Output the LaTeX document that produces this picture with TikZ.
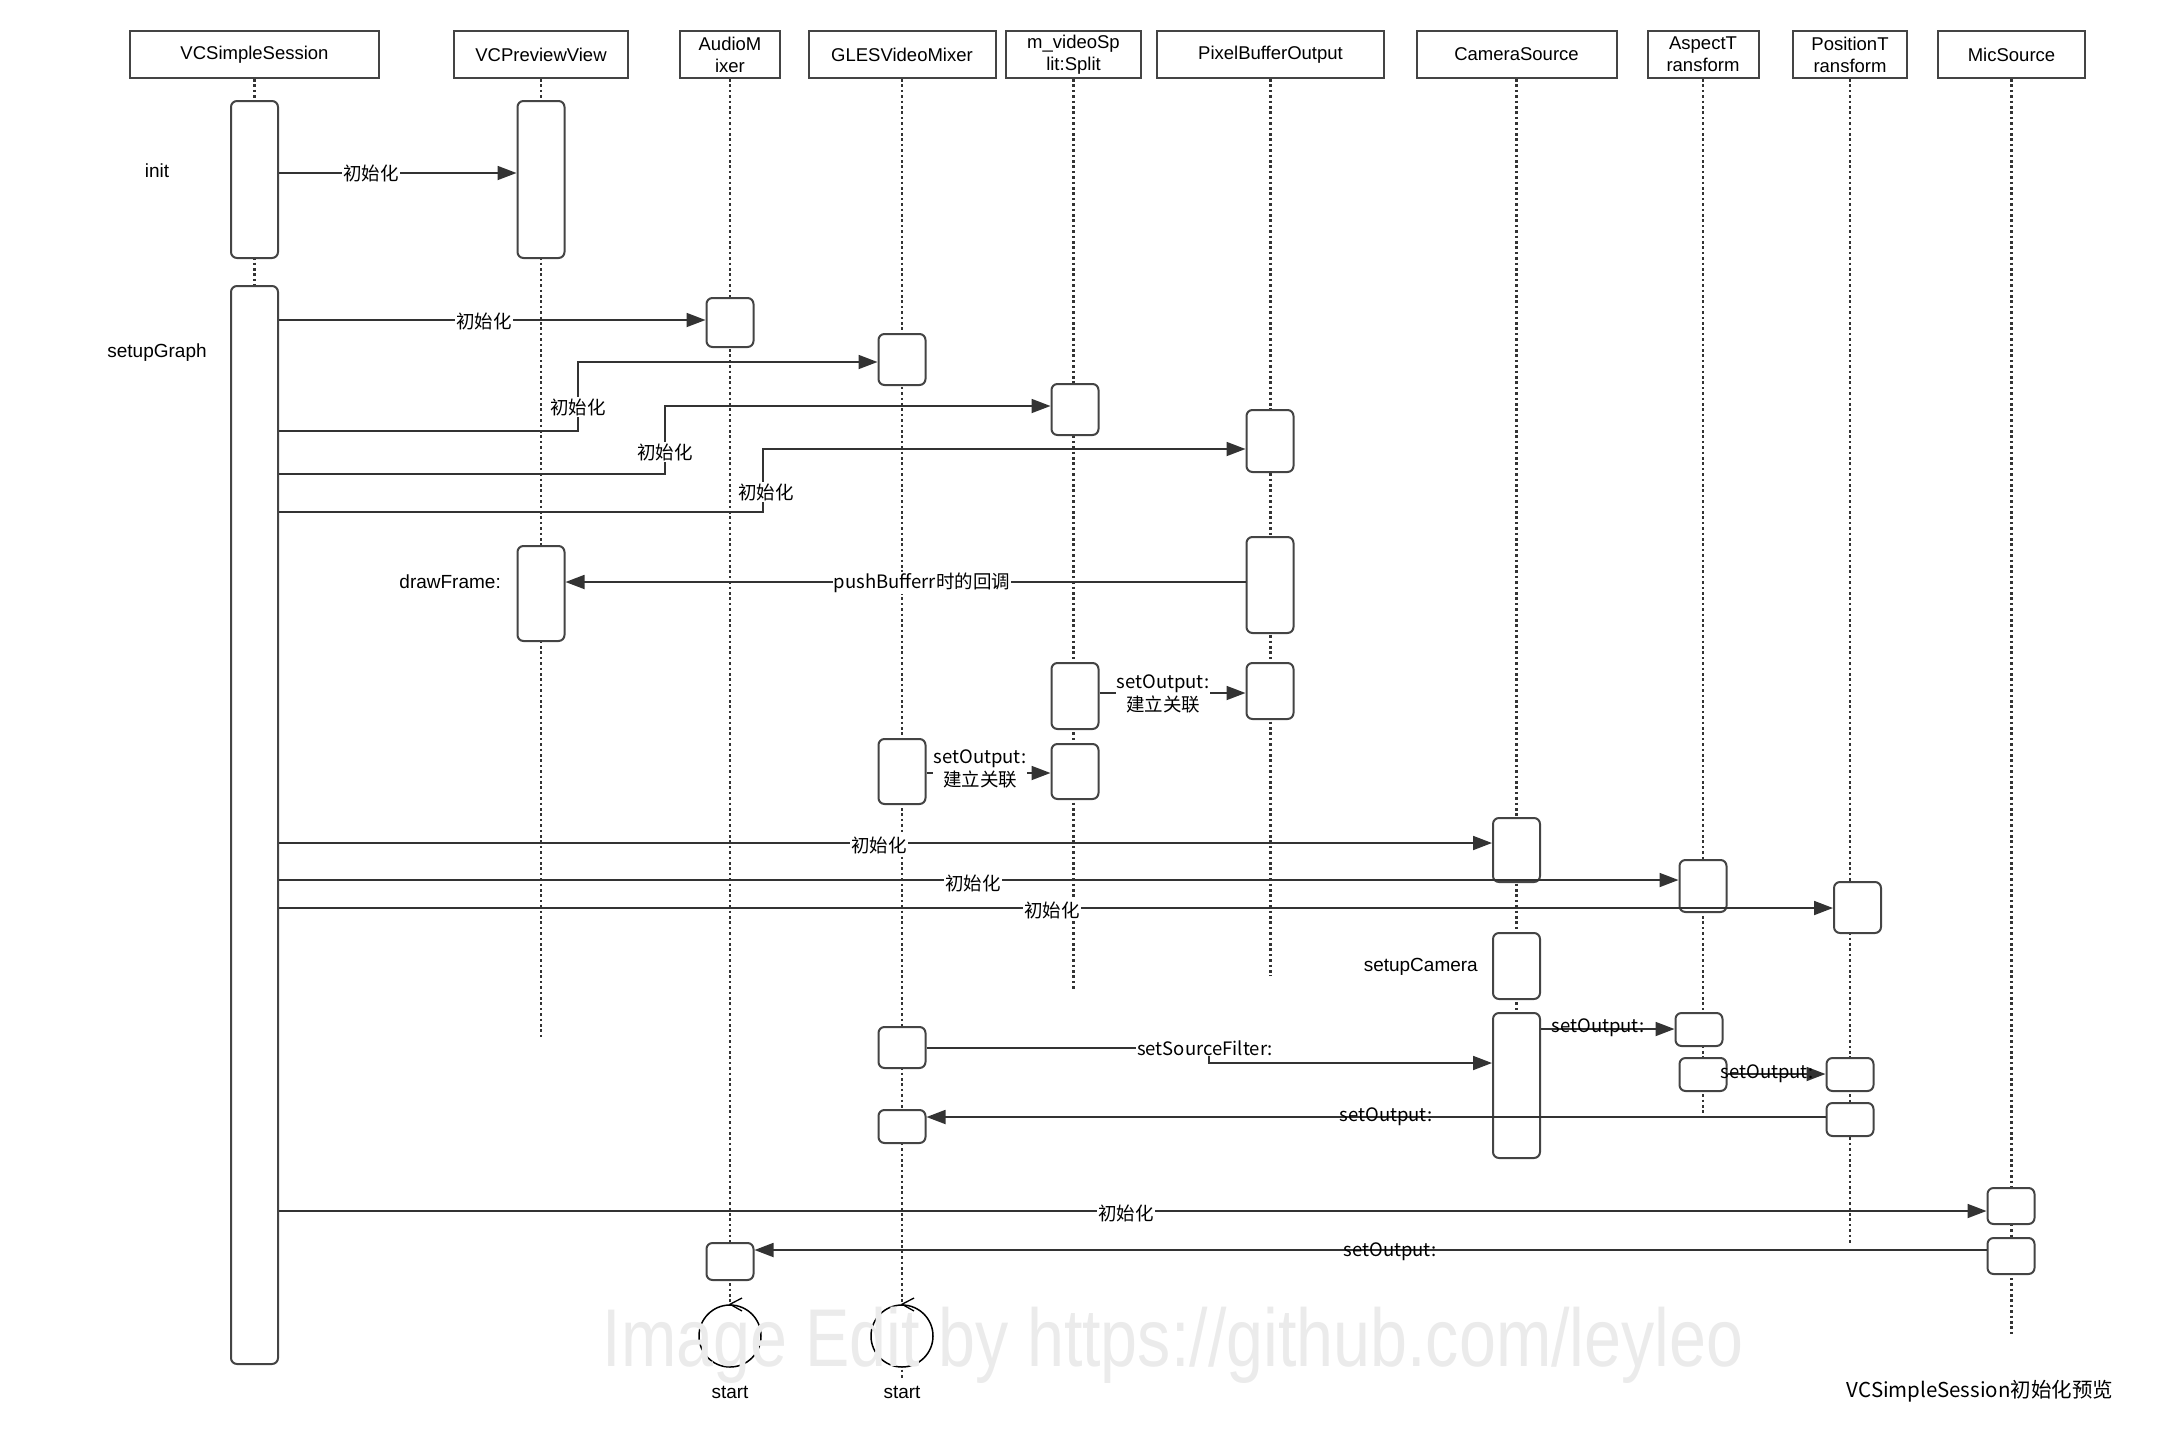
\documentclass[tikz,border=0pt]{standalone}
\usepackage{fontspec}
\setmainfont{Liberation Sans}
\newfontfamily\cjk{Noto Sans CJK SC}
\usepackage{tikz}
\usetikzlibrary{arrows.meta}

\definecolor{linec}{HTML}{333333}
\definecolor{boxc}{HTML}{444444}

\newcommand{\actbox}[4]{\node[act, minimum height=#4-#3] (#1) at (#2,{(#3+#4)/2}) {};}

\begin{document}
\begin{tikzpicture}[x=1pt, y=-1pt,
    head/.style={draw=boxc, line width=2pt, minimum height=47pt, inner sep=0pt, align=center, font=\fontsize{18.5}{22}\selectfont},
    act/.style={draw=boxc, fill=white, line width=2pt, rounded corners=6pt, minimum width=47pt, inner sep=0pt},
    life/.style={draw=linec, line width=2.8pt, dash pattern=on 2.6pt off 2.8pt},
    msg/.style={draw=linec, line width=1.8pt, -{Triangle[length=19pt, width=14pt]}},
    lbl/.style={font=\cjk\fontsize{18.5}{23}\selectfont, fill=white, inner sep=1pt, align=center},
    lbln/.style={font=\cjk\fontsize{18.5}{23}\selectfont, inner sep=1pt},
    note/.style={font=\fontsize{19}{22}\selectfont, inner sep=0pt}]
            \useasboundingbox (0,0) rectangle (2166,1454);

            \node[head, minimum width=249pt] (hSess) at (254.5,54.5) {VCSimpleSession};
            \node[head, minimum width=174pt] (hPrev) at (541,54.5) {VCPreviewView};
            \node[head, minimum width=100pt] (hAudio) at (730,54.5) {AudioM\\ixer};
            \node[head, minimum width=187pt] (hGles) at (902,54.5) {GLESVideoMixer};
            \node[head, minimum width=135pt] (hSplit) at (1073.5,54.5) {m\_videoSp\\lit:Split};
            \node[head, minimum width=227pt] (hPbo) at (1270.5,54.5) {PixelBufferOutput};
            \node[head, minimum width=200pt] (hCam) at (1516.5,54.5) {CameraSource};
            \node[head, minimum width=111pt] (hAspect) at (1703,54.5) {AspectT\\ransform};
            \node[head, minimum width=114pt] (hPos) at (1850,54.5) {PositionT\\ransform};
            \node[head, minimum width=147pt] (hMic) at (2011.5,54.5) {MicSource};

            \foreach \n/\e in {hSess/1364, hPrev/1039, hAudio/1305, hGles/1378, hSplit/991,
                hPbo/976, hCam/1158, hAspect/1118, hPos/1243, hMic/1337}
                \draw[life] (\n.south) -- (\n.south |- 0,\e);

            \actbox{sessA}{254.5}{101}{258}
            \actbox{prevA}{541}{101}{258}
            \actbox{sessB}{254.5}{286}{1364}
            \actbox{amA}{730}{298}{347}
            \actbox{glA}{902}{334}{385}
            \actbox{spA}{1075}{384}{435}
            \actbox{pbA}{1270}{410}{472}
            \actbox{pbB}{1270}{537}{633}
            \actbox{prevB}{541}{546}{641}
            \actbox{spB}{1075}{663}{729}
            \actbox{pbC}{1270}{663}{719}
            \actbox{glB}{902}{739}{804}
            \actbox{spC}{1075}{744}{799}
            \actbox{camA}{1516.5}{818}{882}
            \actbox{asA}{1703}{860}{912}
            \actbox{posA}{1857.5}{882}{933}
            \actbox{camB}{1516.5}{933}{999}
            \actbox{camC}{1516.5}{1013}{1158}
            \actbox{asB}{1699}{1013}{1046}
            \actbox{asC}{1703}{1058}{1091}
            \actbox{posB}{1850}{1058}{1091}
            \actbox{posC}{1850}{1103}{1136}
            \actbox{glC}{902}{1027}{1068}
            \actbox{glD}{902}{1110}{1143}
            \actbox{micA}{2011}{1188}{1224}
            \actbox{micB}{2011}{1238}{1274}
            \actbox{amB}{730}{1243}{1280}

            \draw[msg] (sessA.east |- 0,173) -- (prevA.west |- 0,173);
            \draw[msg] (sessB.east |- 0,320) -- (amA.west |- 0,320);
            \draw[msg] (sessB.east |- 0,431) -- (578,431) -- (578,362) -- (glA.west |- 0,362);
            \draw[msg] (sessB.east |- 0,474) -- (665,474) -- (665,406) -- (spA.west |- 0,406);
            \draw[msg] (sessB.east |- 0,512) -- (763,512) -- (763,449) -- (pbA.west |- 0,449);
            \draw[msg] (pbB.west |- 0,582) -- (prevB.east |- 0,582);
            \draw[msg] (spB.east |- 0,693) -- (pbC.west |- 0,693);
            \draw[msg] (glB.east |- 0,773) -- (spC.west |- 0,773);
            \draw[msg] (sessB.east |- 0,843) -- (camA.west |- 0,843);
            \draw[msg] (sessB.east |- 0,880) -- (asA.west |- 0,880);
            \draw[msg] (sessB.east |- 0,908) -- (posA.west |- 0,908);
            \draw[msg] (camC.east |- 0,1029) -- (asB.west |- 0,1029);
            \draw[msg] (glC.east |- 0,1048) -- (1209,1048) -- (1209,1063) -- (camC.west |- 0,1063);
            \draw[msg] (asC.east |- 0,1074) -- (posB.west |- 0,1074);
            \draw[msg] (posC.west |- 0,1117) -- (glD.east |- 0,1117);
            \draw[msg] (sessB.east |- 0,1211) -- (micA.west |- 0,1211);
            \draw[msg] (micB.west |- 0,1250) -- (amB.east |- 0,1250);

            \node[lbl] (l1) at (371,173) {初始化};
            \node[lbl] (l2) at (484,321) {初始化};
            \node[lbl] (l3) at (578,407) {初始化};
            \node[lbl] (l4) at (665,452) {初始化};
            \node[lbl] (l5) at (766,492) {初始化};
            \node[lbl] (l6) at (922,583) {pushBufferr时的回调};
            \node[lbl] (l7) at (1163,694) {setOutput:\\建立关联};
            \node[lbl] (l8) at (980,769) {setOutput:\\建立关联};
            \node[lbl] (l9) at (879,845) {初始化};
            \node[lbl] (l10) at (973,883) {初始化};
            \node[lbl] (l11) at (1052,910) {初始化};
            \node[lbln] (l12) at (1598,1028) {setOutput:};
            \node[lbl] (l13) at (1205,1048) {setSourceFilter:};
            \node[lbln] (l14) at (1767,1074) {setOutput:};
            \node[lbln] (l15) at (1386,1117) {setOutput:};
            \node[lbl] (l16) at (1126,1213) {初始化};
            \node[lbln] (l17) at (1390,1252) {setOutput:};

            \node[note] (init) at (157,171) {init};
            \node[note] (setup) at (157,353) {setupGraph};
            \node[note, anchor=east] (draw) at (501,582) {drawFrame:};
            \node[note, anchor=east] (cam) at (1478,967) {setupCamera};

            \node[draw, circle, fill=white, line width=1.5pt, minimum size=62pt, inner sep=0pt] (loopA) at (730,1336) {};
            \node[draw, circle, fill=white, line width=1.5pt, minimum size=62pt, inner sep=0pt] (loopG) at (902,1336) {};
            \draw[line width=1.3pt] (742,1298) -- (loopA.north) -- (742,1311);
            \draw[line width=1.3pt] (914,1298) -- (loopG.north) -- (914,1311);
            \node[note] (startA) at (730,1392) {start};
            \node[note] (startG) at (902,1392) {start};

            \node[font=\cjk\fontsize{20.5}{24}\selectfont] (title) at (1980,1391) {VCSimpleSession初始化预览};

            \node[text=black!8, font=\fontsize{82}{90}\selectfont, xscale=0.81, anchor=base, inner sep=0pt] (mark) at (1173,1366) {Image Edit by https://github.com/leyleo};
\end{tikzpicture}
\end{document}
